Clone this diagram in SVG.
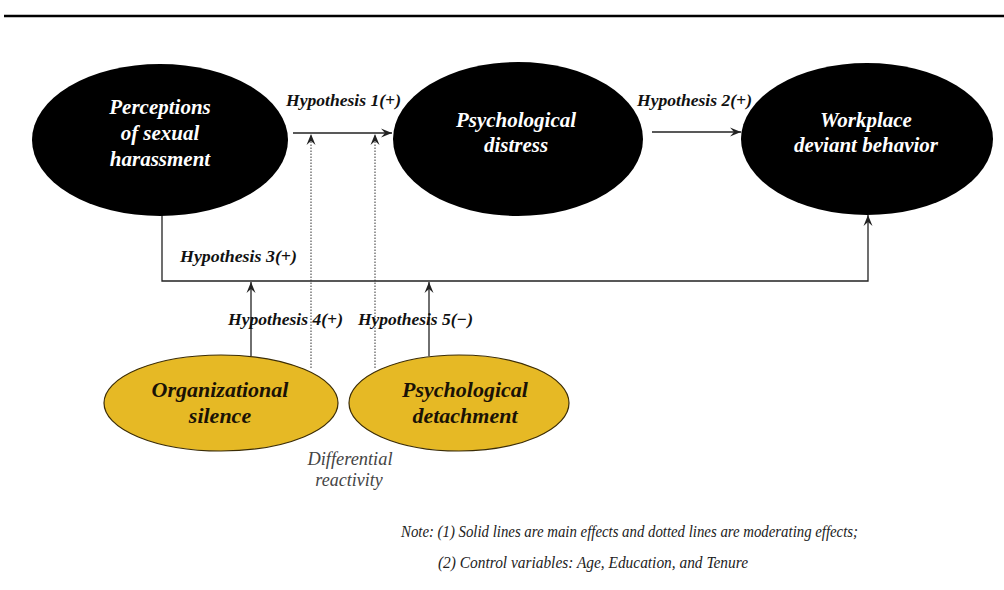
<svg xmlns="http://www.w3.org/2000/svg" width="1004" height="590" viewBox="0 0 1004 590">
<style>
.main{fill:#000;stroke:none}
.mod{fill:#E6B925;stroke:#3b2c05;stroke-width:1.2}
.nt{font-family:"Liberation Serif",serif;font-weight:bold;font-style:italic;font-size:21px;fill:#fff;text-anchor:middle}
.yt{font-family:"Liberation Serif",serif;font-weight:bold;font-style:italic;font-size:22px;fill:#1a1206;text-anchor:middle}
.hl{font-family:"Liberation Serif",serif;font-weight:bold;font-style:italic;font-size:17px;fill:#111}
.sl{fill:none;stroke:#222;stroke-width:1.3}
.dl{fill:none;stroke:#333;stroke-width:1;stroke-dasharray:1.5,1.5}
.nt2{font-family:"Liberation Serif",serif;font-style:italic;font-size:16px;fill:#222}
.dr{font-family:"Liberation Serif",serif;font-style:italic;font-size:18px;fill:#444;text-anchor:middle}
</style>
<defs>
<marker id="ah" markerWidth="12" markerHeight="10" refX="11" refY="5" orient="auto" markerUnits="userSpaceOnUse">
<path d="M0,0.5 L11,5 L0,9.5 L4,5 z" fill="#222"/>
</marker>
</defs>
<rect width="1004" height="590" fill="#fff"/>
<line x1="4" y1="16" x2="1004" y2="16" stroke="#000" stroke-width="2.6"/>

<g id="connectors">
<line class="sl" x1="293" y1="133" x2="392" y2="133" marker-end="url(#ah)"/>
<line class="sl" x1="652" y1="132" x2="741" y2="132" marker-end="url(#ah)"/>
<polyline class="sl" points="162,214 162,281 868,281 868,215" marker-end="url(#ah)"/>
<line class="sl" x1="251" y1="356" x2="251" y2="282" marker-end="url(#ah)"/>
<line class="sl" x1="429" y1="356" x2="429" y2="282" marker-end="url(#ah)"/>
<line class="dl" x1="311" y1="368" x2="311" y2="134" marker-end="url(#ah)"/>
<line class="dl" x1="375" y1="368" x2="375" y2="134" marker-end="url(#ah)"/>
<text class="hl" x="286" y="106" textLength="115" lengthAdjust="spacingAndGlyphs">Hypothesis 1(+)</text>
<text class="hl" x="637" y="106" textLength="115" lengthAdjust="spacingAndGlyphs">Hypothesis 2(+)</text>
<text class="hl" x="180" y="262" textLength="117" lengthAdjust="spacingAndGlyphs">Hypothesis 3(+)</text>
<text class="hl" x="228" y="325" textLength="115" lengthAdjust="spacingAndGlyphs">Hypothesis 4(+)</text>
<text class="hl" x="358" y="325" textLength="115" lengthAdjust="spacingAndGlyphs">Hypothesis 5(−)</text>
</g>

<g id="node-perceptions">
<ellipse class="main" cx="160" cy="140" rx="128" ry="76"/>
<text class="nt" x="160" y="114">Perceptions</text>
<text class="nt" x="160" y="140">of sexual</text>
<text class="nt" x="160" y="166">harassment</text>
</g>
<g id="node-distress">
<ellipse class="main" cx="518" cy="139" rx="125" ry="77"/>
<text class="nt" x="516" y="127">Psychological</text>
<text class="nt" x="516" y="152">distress</text>
</g>
<g id="node-deviant">
<ellipse class="main" cx="867" cy="139" rx="126" ry="76"/>
<text class="nt" x="866" y="127">Workplace</text>
<text class="nt" x="866" y="152">deviant behavior</text>
</g>
<g id="node-silence">
<ellipse class="mod" cx="221" cy="403" rx="117" ry="48"/>
<text class="yt" x="220" y="397">Organizational</text>
<text class="yt" x="220" y="423">silence</text>
</g>
<g id="node-detachment">
<ellipse class="mod" cx="459" cy="403" rx="110" ry="48"/>
<text class="yt" x="465" y="397">Psychological</text>
<text class="yt" x="465" y="423">detachment</text>
</g>
<g id="label-differential">
<text class="dr" x="350" y="465" textLength="85" lengthAdjust="spacingAndGlyphs">Differential</text>
<text class="dr" x="349" y="486">reactivity</text>
</g>
<g id="note">
<text class="nt2" x="401" y="537" textLength="457" lengthAdjust="spacingAndGlyphs">Note: (1) Solid lines are main effects and dotted lines are moderating effects;</text>
<text class="nt2" x="438" y="568" textLength="310" lengthAdjust="spacingAndGlyphs">(2) Control variables: Age, Education, and Tenure</text>
</g>
</svg>
